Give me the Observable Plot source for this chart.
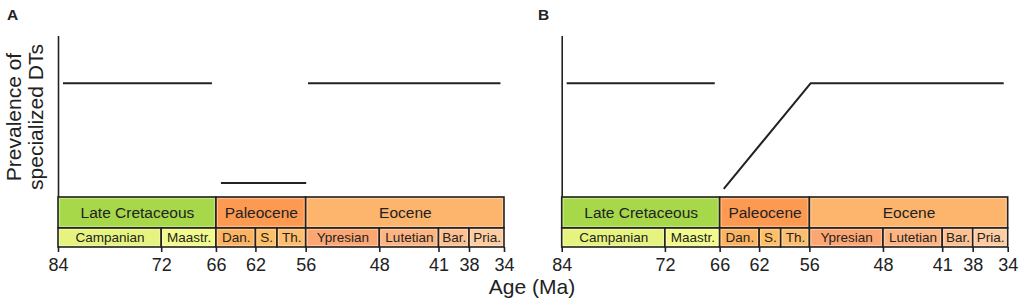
<!DOCTYPE html>
<html>
<head>
<meta charset="utf-8">
<script src="https://cdn.jsdelivr.net/npm/d3@7"></script>
<script src="https://cdn.jsdelivr.net/npm/@observablehq/plot@0.6"></script>
<style>
  html, body { margin: 0; padding: 0; background: white; }
  body { font-family: "Liberation Sans", Arial, Helvetica, sans-serif; color: #222; }
  #wrap { position: relative; width: 1021px; height: 304px; overflow: hidden; }
  .panel { position: absolute; top: 0; }
  .plab { position: absolute; font-weight: bold; font-size: 15.5px; line-height: 15px; }
  #xlab { position: absolute; top: 276px; left: 432px; width: 200px; text-align: center; font-size: 21px; line-height: 21px; }
</style>
</head>
<body>
<div id="wrap">
  <div class="panel" id="pa" style="left:0px"></div>
  <div class="panel" id="pb" style="left:510px"></div>
  <div class="plab" style="left:7px;top:7px">A</div>
  <div class="plab" style="left:538px;top:7px">B</div>
  <div id="xlab">Age (Ma)</div>
</div>
<script>
// ---- Geologic time scale (Ma) ----
const eraNames = ["Late Cretaceous", "Paleocene", "Eocene"];
const eraStart = [83.6, 66.0, 56.0];
const eraEnd = [66.0, 56.0, 33.9];
const eraColors = ["#A6D84A", "#FD9A52", "#FDB46C"];

const stageNames = ["Campanian", "Maastr.", "Dan.", "S.", "Th.", "Ypresian", "Lutetian", "Bar.", "Pria."];
const stageStart = [83.6, 72.1, 66.0, 61.6, 59.2, 56.0, 47.8, 41.2, 37.8];
const stageEnd = [72.1, 66.0, 61.6, 59.2, 56.0, 47.8, 41.2, 37.8, 33.9];
const stageColors = ["#E6F47F", "#F2FA8C", "#FDB462", "#FEBF65", "#FDBF6F", "#FCA773", "#FCB482", "#FDC091", "#FDCDA1"];

const tickValues = [83.6, 72.1, 66.0, 61.6, 56.0, 47.8, 41.2, 37.8, 33.9];
const tickLabels = ["84", "72", "66", "62", "56", "48", "41", "38", "34"];

// ---- Prevalence of specialized DTs (relative units) ----
// Panel A: three separate segments
const aSegment = [1, 1, 2, 2, 3, 3];
const aAge = [83.1, 66.5, 65.5, 56.0, 55.8, 34.35];
const aPrevalence = [0.71, 0.71, 0.09, 0.09, 0.71, 0.71];
// Panel B: plateau, then gradual recovery
const bSegment = [1, 1, 2, 2, 2];
const bAge = [83.1, 66.6, 65.6, 55.9, 34.4];
const bPrevalence = [0.71, 0.71, 0.054, 0.71, 0.71];

const yLabel = "Prevalence of\nspecialized DTs";

// ---- build tables ----
const eras = eraNames.map((n, i) => ({name: n, start: eraStart[i], end: eraEnd[i], color: eraColors[i]}));
const stages = stageNames.map((n, i) => ({name: n, start: stageStart[i], end: stageEnd[i], color: stageColors[i]}));
const linesA = aAge.map((a, i) => ({age: a, v: aPrevalence[i], seg: aSegment[i]}));
const linesB = bAge.map((a, i) => ({age: a, v: bPrevalence[i], seg: bSegment[i]}));
const labelMap = new Map(tickValues.map((t, i) => [t, tickLabels[i]]));

const ERA_BOTTOM = -0.1925, STAGE_BOTTOM = -0.3106;
const FONT = '"Liberation Sans", Arial, Helvetica, sans-serif';
const INK = "#222";

function panel(data, opts) {
  const marks = [
    // time-scale cells
    Plot.rectY(eras, {x1: "start", x2: "end", y1: 0, y2: ERA_BOTTOM, fill: "color", stroke: INK, strokeWidth: 1.6}),
    Plot.rectY(eras, {x1: "start", x2: "end", y1: 0, y2: ERA_BOTTOM, stroke: "white", strokeOpacity: 0.35, strokeWidth: 1, inset: 1.6}),
    Plot.rectY(stages, {x1: "start", x2: "end", y1: ERA_BOTTOM, y2: STAGE_BOTTOM, fill: "color", stroke: INK, strokeWidth: 1.6}),
    Plot.rectY(stages, {x1: "start", x2: "end", y1: ERA_BOTTOM, y2: STAGE_BOTTOM, stroke: "white", strokeOpacity: 0.35, strokeWidth: 1, inset: 1.6}),
    Plot.text(eras, {x: d => (d.start + d.end) / 2, y: ERA_BOTTOM / 2, text: "name", fontSize: 15.5, fill: INK}),
    Plot.text(stages, {x: d => (d.start + d.end) / 2, y: (ERA_BOTTOM + STAGE_BOTTOM) / 2, text: "name", fontSize: 13.5, fill: INK}),
    // y axis line
    Plot.ruleX([83.6], {y1: 0, y2: 1, stroke: INK, strokeWidth: 1.6}),
    // x axis
    Plot.axisX({ticks: tickValues, tickFormat: d => labelMap.get(d), tickSize: 5, tickPadding: 6, fontSize: 18, strokeWidth: 1.6, label: null}),
    // data
    Plot.line(data, {x: "age", y: "v", z: "seg", stroke: INK, strokeWidth: 2, strokeLinecap: "butt"})
  ];
  if (opts.yLabel) {
    marks.push(Plot.text([yLabel], {text: d => d, y: () => 0.5, frameAnchor: "left", rotate: -90, dx: -34,
      fontSize: 21, lineHeight: 1.05, textAnchor: "middle", fill: INK}));
  }
  return Plot.plot({
    width: opts.width,
    height: 304,
    marginLeft: opts.ml,
    marginRight: opts.mr,
    marginTop: 36,
    marginBottom: 57,
    style: {background: "transparent", overflow: "visible", fontFamily: FONT, color: INK},
    x: {domain: [83.6, 33.9], axis: null},
    y: {domain: [STAGE_BOTTOM, 1], axis: null},
    marks
  });
}

document.getElementById("pa").appendChild(panel(linesA, {width: 510, ml: 58, mr: 6, yLabel: true}));
document.getElementById("pb").appendChild(panel(linesB, {width: 511, ml: 51.7, mr: 13.3, yLabel: false}));
</script>
</body>
</html>
